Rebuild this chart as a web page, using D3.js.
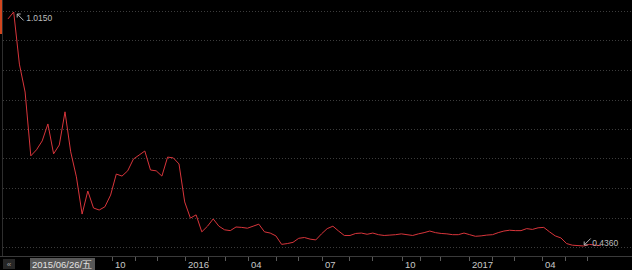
<!DOCTYPE html>
<html>
<head>
<meta charset="utf-8">
<script src="https://cdn.jsdelivr.net/npm/d3@7"></script>
<style>
  html, body { margin: 0; padding: 0; background: #000; }
  svg { display: block; }
  text { font-family: "Liberation Sans", Arial, sans-serif; }
</style>
</head>
<body>
<svg width="632" height="270"></svg>
<script>
// weekly closing values, oldest first
var values = [
  0.998, 1.015, 0.886, 0.817, 0.659, 0.674, 0.696, 0.738, 0.664, 0.686,
  0.768, 0.669, 0.607, 0.515, 0.572, 0.530, 0.525, 0.533, 0.562, 0.614,
  0.609, 0.622, 0.651, 0.661, 0.671, 0.624, 0.622, 0.609, 0.656, 0.654,
  0.639, 0.545, 0.505, 0.513, 0.471, 0.485, 0.503, 0.485, 0.476, 0.474,
  0.483, 0.482, 0.480, 0.485, 0.490, 0.471, 0.468, 0.461, 0.440, 0.442,
  0.445, 0.455, 0.457, 0.453, 0.451, 0.466, 0.479, 0.485, 0.473, 0.462,
  0.462, 0.467, 0.468, 0.465, 0.468, 0.464, 0.462, 0.463, 0.464, 0.466,
  0.464, 0.462, 0.466, 0.469, 0.473, 0.469, 0.467, 0.466, 0.464, 0.464,
  0.468, 0.464, 0.460, 0.461, 0.463, 0.464, 0.469, 0.473, 0.475, 0.474,
  0.474, 0.479, 0.477, 0.481, 0.482, 0.471, 0.461, 0.456, 0.442, 0.438,
  0.437, 0.436, 0.440, 0.438, 0.437
];

// month ticks, as positions along the week index
var tickIdx = [18.2, 22.2, 26.1, 31, 35.1, 38, 42.1, 47, 50.9, 55.1, 59.9,
  63.8, 69.1, 72.3, 75.8, 80.9, 85, 88.8, 93.7, 97.7, 101.5];
var tickText = ['10', '', '', '2016', '', '', '04', '', '', '07', '', '',
  '10', '', '', '2017', '', '', '04', '', ''];

var startLabel = '2015/06/26/五';

var svg = d3.select('svg');
var width = +svg.attr('width');
var height = +svg.attr('height');
var axisTop = 256;

var x = d3.scaleLinear().domain([0, values.length - 1]).range([8, 600.8]);
var y = d3.scaleLinear().domain([0.4335, 1.0175]).range([247, 11]);

// dotted horizontal grid, evenly split
var gridVals = d3.range(9).map(function(i) {
  return y.domain()[0] + i * (y.domain()[1] - y.domain()[0]) / 8;
});
svg.append('g')
  .selectAll('line')
  .data(gridVals)
  .enter()
  .append('line')
  .attr('x1', 3)
  .attr('x2', width)
  .attr('y1', function(d) { return Math.round(y(d)) + 0.5; })
  .attr('y2', function(d) { return Math.round(y(d)) + 0.5; })
  .attr('stroke', '#3c3c3c')
  .attr('stroke-dasharray', '1,2');

// left edge strip
svg.append('line')
  .attr('x1', 2.5).attr('x2', 2.5)
  .attr('y1', 0).attr('y2', axisTop)
  .attr('stroke', '#2e2e2e');
svg.append('rect')
  .attr('x', 0).attr('y', 0)
  .attr('width', 2).attr('height', 34)
  .attr('fill', '#d2461e');

// the series
var line = d3.line()
  .x(function(d, i) { return x(i); })
  .y(function(d) { return y(d); });

svg.append('path')
  .datum(values)
  .attr('d', line)
  .attr('fill', 'none')
  .attr('stroke', '#d8353b')
  .attr('stroke-width', 1);

// max / min callouts
var hi = d3.maxIndex(values);
var lo = d3.minIndex(values);

function callout(i, up) {
  var px = x(i), py = y(values[i]);
  var g = svg.append('g').attr('stroke', '#b8b8b8').attr('fill', 'none');
  if (up) {
    var tx = px + 3.5, ty = py + 2;
    g.append('path').attr('d', 'M' + tx + ',' + ty + 'L' + (tx + 6.5) + ',' + (ty + 6.5));
    g.append('path').attr('d', 'M' + tx + ',' + (ty + 3.5) + 'L' + tx + ',' + ty + 'L' + (tx + 3.5) + ',' + ty);
    svg.append('text')
      .attr('x', px + 12.5).attr('y', py + 8.7)
      .attr('font-size', 8.5).attr('fill', '#bdbdbd')
      .text(values[i].toFixed(4));
  } else {
    var bx = px + 0.5, by = py - 1;
    g.append('path').attr('d', 'M' + bx + ',' + by + 'L' + (bx + 6.5) + ',' + (by - 6.5));
    g.append('path').attr('d', 'M' + bx + ',' + (by - 3.5) + 'L' + bx + ',' + by + 'L' + (bx + 3.5) + ',' + by);
    svg.append('text')
      .attr('x', px + 8.5).attr('y', py - 0.3)
      .attr('font-size', 8.5).attr('fill', '#bdbdbd')
      .text(values[i].toFixed(4));
  }
}
callout(hi, true);
callout(lo, false);

// bottom time axis
svg.append('line')
  .attr('x1', 0).attr('x2', width)
  .attr('y1', axisTop + 0.5).attr('y2', axisTop + 0.5)
  .attr('stroke', '#3a3a3a');

var ticks = svg.append('g')
  .selectAll('g')
  .data(tickIdx)
  .enter()
  .append('g')
  .attr('transform', function(d) { return 'translate(' + (Math.round(x(d)) + 0.5) + ',0)'; });

ticks.append('line')
  .attr('y1', axisTop + 1).attr('y2', axisTop + 5)
  .attr('stroke', '#5a5a5a');

ticks.append('text')
  .attr('x', 2.5).attr('y', 268)
  .attr('font-size', 9.5)
  .attr('fill', '#c8c8c8')
  .text(function(d, i) { return tickText[i]; });

// scroll button and first-date box
svg.append('rect')
  .attr('x', 3).attr('y', 259)
  .attr('width', 12).attr('height', 10)
  .attr('fill', '#262626');
svg.append('text')
  .attr('x', 9).attr('y', 267)
  .attr('text-anchor', 'middle')
  .attr('font-size', 8).attr('fill', '#9a9a9a')
  .text('«');

svg.append('rect')
  .attr('x', 30).attr('y', 258)
  .attr('width', 65).attr('height', 12)
  .attr('fill', '#575757');
svg.append('text')
  .attr('x', 32).attr('y', 268)
  .attr('font-size', 9.5)
  .attr('fill', '#e2e2e2')
  .text(startLabel);
</script>
</body>
</html>
